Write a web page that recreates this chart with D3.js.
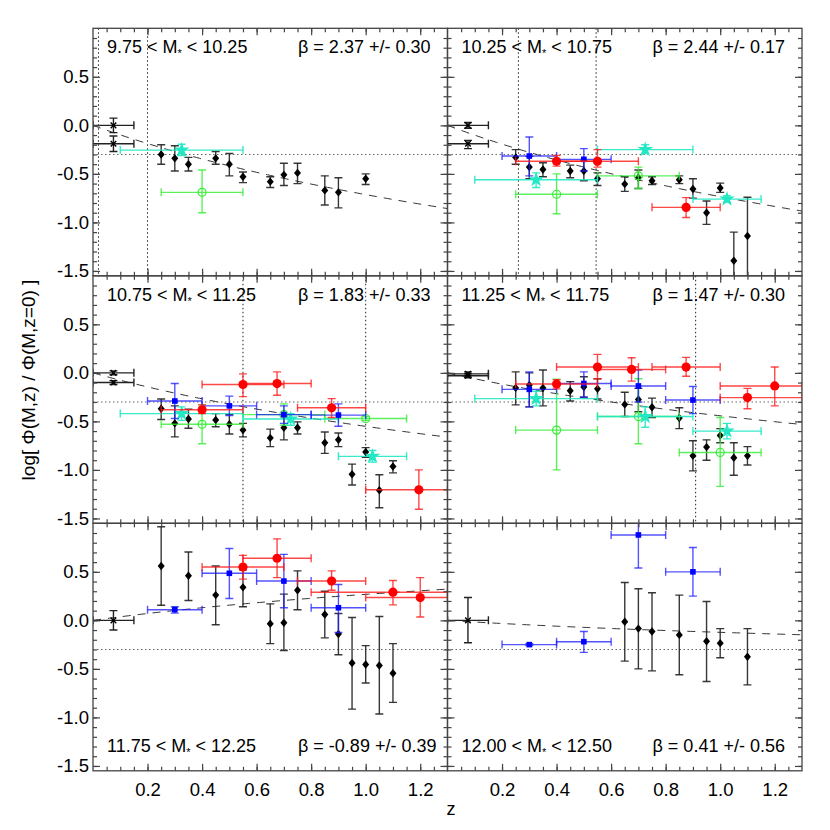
<!DOCTYPE html>
<html>
<head>
<meta charset="utf-8">
<script src="https://cdn.jsdelivr.net/npm/d3@7"></script>
<style>
  body { margin: 0; background: #fff; }
  svg text { font-family: "Liberation Sans", Arial, Helvetica, sans-serif; fill: #000; }
</style>
</head>
<body>
<div id="chart"></div>
<script>
// mass bins, fit slopes
const binLo = ["9.75", "10.25", "10.75", "11.25", "11.75", "12.00"];
const binHi = ["10.25", "10.75", "11.25", "11.75", "12.25", "12.50"];
const betaVal = [2.37, 2.44, 1.83, 1.47, -0.89, 0.41];
const betaErr = ["0.30", "0.17", "0.33", "0.30", "0.39", "0.56"];
const vLines = [[0.02, 0.2], [0.26, 0.545], [0.55, 1.0], [0.91], [], []];
const refLevel = -0.3;
const zTicks = [0.2, 0.4, 0.6, 0.8, 1.0, 1.2];
const yTicks = [0.5, 0.0, -0.5, -1.0, -1.5];

// local points: [z, zLo, zHi, y, yLo, yHi]
const localPts = [
  [[0.075, 0, 0.15, 0.0, -0.075, 0.075], [0.075, 0, 0.15, -0.19, -0.27, -0.11]],
  [[0.075, 0, 0.15, 0.0, -0.03, 0.03], [0.075, 0, 0.15, -0.19, -0.24, -0.155]],
  [[0.075, 0, 0.15, 0.0, -0.02, 0.02], [0.075, 0, 0.15, -0.10, -0.12, -0.08]],
  [[0.075, 0, 0.15, -0.01, -0.03, 0.01], [0.075, 0, 0.15, -0.03, -0.05, -0.01]],
  [[0.075, 0, 0.15, 0.0, -0.10, 0.10]],
  [[0.075, 0, 0.15, 0.0, -0.23, 0.235]]
];

// black diamonds: [z, y, yLo, yHi]
const diamondPts = [
  [[0.25, -0.30, -0.40, -0.20], [0.30, -0.34, -0.47, -0.21], [0.35, -0.40, -0.47, -0.33],
   [0.45, -0.34, -0.40, -0.27], [0.50, -0.40, -0.52, -0.29], [0.55, -0.53, -0.59, -0.48],
   [0.65, -0.58, -0.64, -0.53], [0.70, -0.51, -0.62, -0.39], [0.75, -0.49, -0.60, -0.39],
   [0.85, -0.67, -0.82, -0.52], [0.90, -0.69, -0.85, -0.54], [1.00, -0.55, -0.61, -0.50]],
  [[0.25, -0.33, -0.40, -0.25], [0.30, -0.43, -0.55, -0.32], [0.35, -0.455, -0.53, -0.385],
   [0.45, -0.47, -0.54, -0.41], [0.50, -0.47, -0.57, -0.37], [0.55, -0.55, -0.62, -0.49],
   [0.65, -0.605, -0.68, -0.53], [0.70, -0.54, -0.65, -0.46], [0.75, -0.57, -0.61, -0.53],
   [0.85, -0.56, -0.60, -0.52], [0.90, -0.655, -0.75, -0.55], [0.95, -0.90, -1.02, -0.78],
   [1.00, -0.645, -0.69, -0.595], [1.05, -1.395, -1.65, -1.10], [1.10, -1.14, -1.65, -0.74]],
  [[0.25, -0.37, -0.48, -0.27], [0.30, -0.52, -0.66, -0.34], [0.35, -0.475, -0.57, -0.375],
   [0.45, -0.485, -0.555, -0.42], [0.50, -0.53, -0.63, -0.43], [0.55, -0.59, -0.66, -0.52],
   [0.65, -0.67, -0.76, -0.58], [0.70, -0.565, -0.69, -0.45], [0.75, -0.565, -0.63, -0.505],
   [0.85, -0.72, -0.83, -0.61], [0.90, -0.69, -0.76, -0.62], [0.95, -1.045, -1.155, -0.94],
   [1.00, -0.815, -0.87, -0.77], [1.05, -1.21, -1.39, -1.05], [1.10, -0.965, -1.03, -0.905]],
  [[0.25, -0.155, -0.33, 0.01], [0.30, -0.125, -0.35, 0.0], [0.35, -0.155, -0.34, 0.03],
   [0.45, -0.185, -0.29, -0.09], [0.50, -0.145, -0.25, -0.04], [0.55, -0.165, -0.27, -0.06],
   [0.65, -0.325, -0.45, -0.20], [0.70, -0.275, -0.40, -0.16], [0.75, -0.355, -0.46, -0.26],
   [0.85, -0.465, -0.575, -0.36], [0.90, -0.855, -1.01, -0.70], [0.95, -0.765, -0.90, -0.69],
   [1.00, -0.645, -0.72, -0.575], [1.05, -0.875, -1.055, -0.72], [1.10, -0.855, -0.95, -0.76]],
  [[0.25, 0.56, 0.155, 0.965], [0.35, 0.46, 0.205, 0.705], [0.45, 0.26, -0.045, 0.56],
   [0.55, 0.34, 0.14, 0.52], [0.65, -0.035, -0.24, 0.17], [0.70, -0.025, -0.31, 0.27],
   [0.75, 0.31, 0.11, 0.51], [0.85, 0.06, -0.18, 0.30], [0.90, -0.14, -0.355, 0.07],
   [0.95, -0.44, -0.915, 0.03], [1.00, -0.455, -0.645, -0.26], [1.05, -0.465, -0.965, 0.04],
   [1.10, -0.545, -0.845, -0.24]],
  [[0.65, -0.015, -0.42, 0.39], [0.70, -0.085, -0.50, 0.325], [0.75, -0.115, -0.52, 0.285],
   [0.85, -0.15, -0.56, 0.26], [0.95, -0.215, -0.63, 0.195], [1.00, -0.235, -0.385, -0.085],
   [1.10, -0.375, -0.665, -0.085]]
];

// other surveys: [z, zLo, zHi, y, yLo, yHi]
const greenPts = [
  [[0.40, 0.25, 0.55, -0.69, -0.90, -0.46]],
  [[0.40, 0.25, 0.55, -0.71, -0.91, -0.50], [0.70, 0.55, 0.85, -0.52, -0.65, -0.43]],
  [[0.40, 0.25, 0.55, -0.53, -0.73, -0.33], [0.70, 0.55, 0.85, -0.43, -0.54, -0.32],
   [1.00, 0.85, 1.15, -0.47, -0.49, -0.45]],
  [[0.40, 0.25, 0.55, -0.59, -1.00, -0.065], [0.70, 0.55, 0.85, -0.45, -0.73, -0.06],
   [1.00, 0.85, 1.15, -0.82, -1.17, -0.46]],
  [],
  []
];
const cyanPts = [
  [[0.325, 0.10, 0.55, -0.255, -0.31, -0.195]],
  [[0.325, 0.10, 0.55, -0.56, -0.64, -0.49], [0.725, 0.55, 0.90, -0.25, -0.29, -0.20],
   [1.025, 0.90, 1.15, -0.76, -0.79, -0.725]],
  [[0.325, 0.10, 0.55, -0.42, -0.49, -0.35], [0.725, 0.55, 0.90, -0.475, -0.54, -0.42],
   [1.025, 0.90, 1.15, -0.86, -0.92, -0.80]],
  [[0.325, 0.10, 0.55, -0.265, -0.34, -0.19], [0.725, 0.55, 0.90, -0.45, -0.56, -0.35],
   [1.025, 0.90, 1.15, -0.60, -0.68, -0.52]],
  [],
  []
];
const bluePts = [
  [],
  [[0.30, 0.20, 0.40, -0.316, -0.52, -0.12], [0.50, 0.40, 0.60, -0.35, -0.47, -0.24]],
  [[0.30, 0.20, 0.40, -0.29, -0.47, -0.11], [0.50, 0.40, 0.60, -0.34, -0.44, -0.24],
   [0.70, 0.60, 0.80, -0.43, -0.52, -0.34], [0.90, 0.80, 1.00, -0.435, -0.55, -0.32]],
  [[0.30, 0.20, 0.40, -0.17, -0.35, 0.01], [0.50, 0.40, 0.60, -0.11, -0.25, 0.01],
   [0.70, 0.60, 0.80, -0.135, -0.30, 0.03], [0.90, 0.80, 1.00, -0.28, -0.42, -0.14]],
  [[0.30, 0.20, 0.40, 0.11, 0.075, 0.14], [0.50, 0.40, 0.60, 0.485, 0.225, 0.74],
   [0.70, 0.60, 0.80, 0.405, 0.13, 0.68], [0.90, 0.80, 1.00, 0.13, -0.125, 0.37]],
  [[0.30, 0.20, 0.40, -0.25, -0.26, -0.24], [0.50, 0.40, 0.60, -0.22, -0.33, -0.115],
   [0.70, 0.60, 0.80, 0.88, 0.54, 1.22], [0.90, 0.80, 1.00, 0.50, 0.25, 0.75]]
];
const redPts = [
  [],
  [[0.40, 0.25, 0.55, -0.37, -0.42, -0.31], [0.55, 0.40, 0.70, -0.37, -0.43, -0.25],
   [0.875, 0.75, 1.00, -0.845, -0.95, -0.745]],
  [[0.40, 0.25, 0.55, -0.38, -0.42, -0.33], [0.55, 0.40, 0.70, -0.12, -0.245, -0.01],
   [0.675, 0.55, 0.80, -0.11, -0.23, 0.01], [0.875, 0.75, 1.00, -0.36, -0.46, -0.265],
   [1.195, 1.00, 1.30, -1.205, -1.405, -1.0]],
  [[0.40, 0.25, 0.55, -0.115, -0.165, -0.07], [0.55, 0.40, 0.70, 0.06, -0.06, 0.19],
   [0.675, 0.55, 0.80, 0.035, -0.085, 0.155], [0.875, 0.75, 1.00, 0.06, -0.035, 0.16],
   [1.10, 1.00, 1.30, -0.255, -0.37, -0.16], [1.20, 1.00, 1.30, -0.135, -0.34, 0.06]],
  [[0.55, 0.40, 0.70, 0.55, 0.425, 0.67], [0.675, 0.55, 0.80, 0.64, 0.44, 0.84],
   [0.875, 0.75, 1.00, 0.405, 0.31, 0.51], [1.10, 0.80, 1.30, 0.29, 0.16, 0.41],
   [1.20, 1.00, 1.30, 0.235, 0.035, 0.44]],
  []
];

const W = 830, H = 830;
const plotLeft = 93, plotTop = 28.3, pw = 354.5, ph = 247.5;
const cap = 4;

const svg = d3.select("#chart").append("svg").attr("width", W).attr("height", H);
const defs = svg.append("defs");

const diamondPath = "M0,-4.2L3.5,0L0,4.2L-3.5,0Z";
const starPath = d3.symbol(d3.symbolStar, 75)();
const timesPath = d3.symbol(d3.symbolTimes, 22)();

// vertical + horizontal error bars
function drawBars(g, pts, x, y, color, op, withH) {
  const eb = g.append("g").attr("stroke", color).attr("stroke-opacity", op).attr("stroke-width", 1.4).attr("fill", "none");
  pts.forEach(p => {
    let zc, yc, ylo, yhi;
    if (withH) {
      zc = p[0]; yc = p[3]; ylo = p[4]; yhi = p[5];
      eb.append("line").attr("x1", x(p[1])).attr("x2", x(p[2])).attr("y1", y(yc)).attr("y2", y(yc));
      eb.append("line").attr("x1", x(p[1])).attr("x2", x(p[1])).attr("y1", y(yc) - cap).attr("y2", y(yc) + cap);
      eb.append("line").attr("x1", x(p[2])).attr("x2", x(p[2])).attr("y1", y(yc) - cap).attr("y2", y(yc) + cap);
    } else {
      zc = p[0]; yc = p[1]; ylo = p[2]; yhi = p[3];
    }
    eb.append("line").attr("x1", x(zc)).attr("x2", x(zc)).attr("y1", y(ylo)).attr("y2", y(yhi));
    eb.append("line").attr("x1", x(zc) - cap).attr("x2", x(zc) + cap).attr("y1", y(ylo)).attr("y2", y(ylo));
    eb.append("line").attr("x1", x(zc) - cap).attr("x2", x(zc) + cap).attr("y1", y(yhi)).attr("y2", y(yhi));
  });
}

binLo.forEach((lo, i) => {
  const col = i % 2, row = Math.floor(i / 2);
  const x0 = plotLeft + col * pw, y0 = plotTop + row * ph;
  const x = d3.scaleLinear().domain([0, 1.3]).range([x0, x0 + pw]);
  const y = d3.scaleLinear().domain([-1.55, 1.0]).range([y0 + ph, y0]);

  defs.append("clipPath").attr("id", "clip" + i)
    .append("rect").attr("x", x0).attr("y", y0).attr("width", pw).attr("height", ph);

  const g = svg.append("g").attr("clip-path", `url(#clip${i})`);

  // reference lines
  g.append("line")
    .attr("x1", x0).attr("x2", x0 + pw).attr("y1", y(refLevel)).attr("y2", y(refLevel))
    .attr("stroke", "#666").attr("stroke-width", 1.1).attr("stroke-dasharray", "1.5,2.5");
  vLines[i].forEach(v => {
    g.append("line")
      .attr("x1", x(v)).attr("x2", x(v)).attr("y1", y0).attr("y2", y0 + ph)
      .attr("stroke", "#222").attr("stroke-width", 1).attr("stroke-dasharray", "1.5,2.5");
  });

  // fit: -beta * log10(1+z)
  const fit = d3.range(0, 1.3001, 0.01).map(z => [z, -betaVal[i] * Math.log10(1 + z)]);
  g.append("path")
    .datum(fit)
    .attr("d", d3.line().x(d => x(d[0])).y(d => y(d[1])))
    .attr("fill", "none").attr("stroke", "#333").attr("stroke-width", 1)
    .attr("stroke-dasharray", "8,7");

  // local points
  drawBars(g, localPts[i], x, y, "#222", 1, true);
  g.selectAll(".loc").data(localPts[i]).enter().append("path")
    .attr("d", timesPath)
    .attr("transform", d => `translate(${x(d[0])},${y(d[3])})`)
    .attr("stroke", "#000").attr("stroke-width", 1.4).attr("fill", "none");

  // black diamonds
  drawBars(g, diamondPts[i], x, y, "#222", 0.9, false);
  g.selectAll(".dia").data(diamondPts[i]).enter().append("path")
    .attr("d", diamondPath)
    .attr("transform", d => `translate(${x(d[0])},${y(d[1])})`)
    .attr("fill", "#000");

  // green open circles
  drawBars(g, greenPts[i], x, y, "#33ee33", 0.8, true);
  g.selectAll(".grn").data(greenPts[i]).enter().append("circle")
    .attr("cx", d => x(d[0])).attr("cy", d => y(d[3])).attr("r", 4)
    .attr("fill", "none").attr("stroke", "#33ee33").attr("stroke-width", 1.2);

  // cyan stars
  drawBars(g, cyanPts[i], x, y, "#22e8c4", 0.9, true);
  g.selectAll(".cyn").data(cyanPts[i]).enter().append("path")
    .attr("d", starPath)
    .attr("transform", d => `translate(${x(d[0])},${y(d[3])})`)
    .attr("fill", "#22e8c4");

  // blue squares
  drawBars(g, bluePts[i], x, y, "#1a1aff", 0.75, true);
  g.selectAll(".blu").data(bluePts[i]).enter().append("rect")
    .attr("x", d => x(d[0]) - 2.8).attr("y", d => y(d[3]) - 2.8)
    .attr("width", 5.6).attr("height", 5.6).attr("fill", "#0000ff");

  // red circles
  drawBars(g, redPts[i], x, y, "#ff1a1a", 0.8, true);
  g.selectAll(".red").data(redPts[i]).enter().append("circle")
    .attr("cx", d => x(d[0])).attr("cy", d => y(d[3])).attr("r", 4.6)
    .attr("fill", "#ff0000");

  // axes with inward ticks on all sides
  const minorZ = d3.range(0.05, 1.3, 0.05);
  const minorY = d3.range(-1.5, 1.0, 0.1);
  const ax = svg.append("g");
  const fmt = d => d.toFixed(1);
  const mk = (axis, tx, ty) => {
    const a = ax.append("g").attr("transform", `translate(${tx},${ty})`).call(axis);
    a.select(".domain").remove();
    a.selectAll("line").attr("stroke", "#444").attr("stroke-width", 1.2);
    a.selectAll("text").attr("font-size", 18.5).attr("font-family", "Liberation Sans, Arial, sans-serif").attr("fill", "#000");
    return a;
  };
  mk(d3.axisBottom(x).tickValues(minorZ).tickSize(-4).tickFormat(""), 0, y0 + ph);
  mk(d3.axisTop(x).tickValues(minorZ).tickSize(-4).tickFormat(""), 0, y0);
  mk(d3.axisBottom(x).tickValues(zTicks).tickSize(-7).tickPadding(12)
      .tickFormat(row === 2 ? fmt : ""), 0, y0 + ph);
  mk(d3.axisTop(x).tickValues(zTicks).tickSize(-7).tickFormat(""), 0, y0);
  mk(d3.axisLeft(y).tickValues(minorY).tickSize(-4).tickFormat(""), x0, 0);
  mk(d3.axisRight(y).tickValues(minorY).tickSize(-4).tickFormat(""), x0 + pw, 0);
  mk(d3.axisLeft(y).tickValues(yTicks).tickSize(-7).tickPadding(4)
      .tickFormat(col === 0 ? fmt : ""), x0, 0);
  mk(d3.axisRight(y).tickValues(yTicks).tickSize(-7).tickFormat(""), x0 + pw, 0);

  svg.append("rect").attr("x", x0).attr("y", y0).attr("width", pw).attr("height", ph)
    .attr("fill", "none").attr("stroke", "#444").attr("stroke-width", 1.3);

  // panel labels
  const ty = row < 2 ? y0 + 25 : y0 + ph - 19;
  const lab = svg.append("text").attr("x", x0 + 14).attr("y", ty).attr("font-size", 18);
  lab.append("tspan").text(`${lo} < M`);
  lab.append("tspan").attr("font-size", 11).attr("dy", 4).text("*");
  lab.append("tspan").attr("dy", -4).text(` < ${binHi[i]}`);
  svg.append("text").attr("x", x0 + 205).attr("y", ty).attr("font-size", 18)
    .text(`β = ${betaVal[i].toFixed(2)} +/- ${betaErr[i]}`);
});

// axis titles
svg.append("text").attr("x", 451).attr("y", 815).attr("text-anchor", "middle")
  .attr("font-size", 18).text("z");
svg.append("text").attr("transform", "translate(35,380) rotate(-90)")
  .attr("text-anchor", "middle").attr("font-size", 19)
  .text("log[ Φ(M,z) / Φ(M,z=0) ]");
</script>
</body>
</html>
